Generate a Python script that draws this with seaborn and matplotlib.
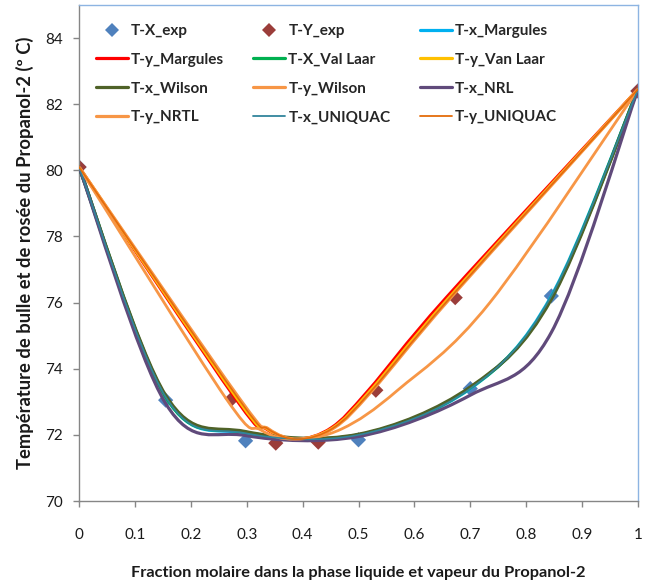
import numpy as np
import pandas as pd
import seaborn as sns
import matplotlib
matplotlib.use("Agg")
import matplotlib.pyplot as plt
from matplotlib.path import Path
from matplotlib.patches import PathPatch
from matplotlib.lines import Line2D

# Experimental bubble points (liquid) and dew points (vapour)
x_exp = [0.0, 0.155, 0.298, 0.5, 0.7, 0.845, 1.0]
T_x_exp = [80.1, 73.05, 71.82, 71.85, 73.4, 76.2, 82.4]
y_exp = [0.0, 0.274, 0.352, 0.428, 0.531, 0.673, 1.0]
T_y_exp = [80.1, 73.1, 71.75, 71.78, 73.35, 76.15, 82.4]

# Model bubble curves, T-x (liquid composition grid)
x_model = [0.0, 0.155, 0.298, 0.5, 0.7, 0.845, 1.0]
T_x_margules = [80.1, 73.15, 72.05, 72.0, 73.4, 76.2, 82.45]
T_x_vanlaar = [80.1, 73.15, 72.08, 72.0, 73.42, 76.15, 82.45]
T_x_wilson = [80.1, 73.2, 72.1, 72.02, 73.45, 76.1, 82.45]
T_x_nrl = [80.1, 72.95, 71.98, 71.95, 73.2, 75.1, 82.45]
T_x_uniquac = [80.1, 73.15, 72.05, 72.0, 73.4, 76.2, 82.45]

# Model dew curves, T-y (vapour composition)
T_vap = [80.1, 73.1, 72.18, 71.87, 72.22, 73.35, 76.15, 82.45]
y_margules = [0.0, 0.28, 0.335, 0.39, 0.452, 0.518, 0.657, 1.0]
y_vanlaar = [0.0, 0.283, 0.337, 0.391, 0.455, 0.522, 0.662, 1.0]
y_wilson = [0.0, 0.287, 0.339, 0.392, 0.457, 0.525, 0.665, 1.0]
y_uniquac = [0.0, 0.285, 0.338, 0.392, 0.456, 0.524, 0.664, 1.0]
T_vap_nrtl = [80.1, 73.1, 72.15, 71.87, 72.18, 73.35, 76.0, 82.45]
y_nrtl = [0.0, 0.263, 0.325, 0.386, 0.47, 0.57, 0.735, 1.0]

x_ticks = [0, 0.1, 0.2, 0.3, 0.4, 0.5, 0.6, 0.7, 0.8, 0.9, 1]
x_ticklabels = ["0", "0.1", "0.2", "0.3", "0.4", "0.5", "0.6", "0.7", "0.8", "0.9", "1"]
y_ticks = [70, 72, 74, 76, 78, 80, 82, 84]

sns.set_theme(style="white")
plt.rcParams["font.family"] = ["Lato", "DejaVu Sans"]

W, H = 645, 587
fig = plt.figure(figsize=(W / 100, H / 100), dpi=100)
ax = fig.add_axes([79 / W, 1 - 501 / H, (638 - 79) / W, (501 - 5) / H])


def smooth_path(xs, ys):
    """Smoothed line through the points (cubic Bezier, Catmull-Rom tangents)."""
    pts = np.column_stack([xs, ys]).astype(float)
    n = len(pts)
    verts = [pts[0]]
    codes = [Path.MOVETO]
    for i in range(n - 1):
        p0 = pts[i - 1] if i > 0 else pts[i]
        p1 = pts[i]
        p2 = pts[i + 1]
        p3 = pts[i + 2] if i + 2 < n else pts[i + 1]
        verts += [p1 + (p2 - p0) / 6, p2 - (p3 - p1) / 6, p2]
        codes += [Path.CURVE4] * 3
    return Path(verts, codes)


exp_df = pd.DataFrame({
    "comp": x_exp + y_exp,
    "T": T_x_exp + T_y_exp,
    "serie": ["T-X_exp"] * len(x_exp) + ["T-Y_exp"] * len(y_exp),
})
exp_colors = {"T-X_exp": "#4F81BD", "T-Y_exp": "#9B3D3A"}
sns.scatterplot(data=exp_df, x="comp", y="T", hue="serie", palette=exp_colors,
                marker="D", s=60, linewidth=0, legend=False, ax=ax, zorder=2)

curves = [
    ("T-x_Margules", x_model, T_x_margules, "#00B0F0", 2.3),
    ("T-y_Margules", y_margules, T_vap, "#FF0000", 2.3),
    ("T-X_Val Laar", x_model, T_x_vanlaar, "#00B050", 2.3),
    ("T-y_Van Laar", y_vanlaar, T_vap, "#FFC000", 2.3),
    ("T-x_Wilson", x_model, T_x_wilson, "#4F6228", 2.3),
    ("T-y_Wilson", y_wilson, T_vap, "#F79646", 2.3),
    ("T-x_NRL", x_model, T_x_nrl, "#604A7B", 2.3),
    ("T-y_NRTL", y_nrtl, T_vap_nrtl, "#F79646", 2.0),
    ("T-x_UNIQUAC", x_model, T_x_uniquac, "#31859C", 1.2),
    ("T-y_UNIQUAC", y_uniquac, T_vap, "#E46C0A", 1.2),
]
for k, (name, xs, ts, col, lw) in enumerate(curves):
    ax.add_patch(PathPatch(smooth_path(xs, ts), fill=False, edgecolor=col,
                           linewidth=lw, capstyle="round", zorder=3 + k * 0.01))

ax.set_xlim(0, 1)
ax.set_ylim(70, 85)
ax.set_xticks(x_ticks)
ax.set_xticklabels(x_ticklabels)
ax.set_yticks(y_ticks)

for side in ("left", "bottom"):
    ax.spines[side].set_color("#868686")
    ax.spines[side].set_linewidth(1.0)
for side in ("top", "right"):
    ax.spines[side].set_color("#8DB4E2")
    ax.spines[side].set_linewidth(1.0)
    ax.spines[side].set_visible(True)

ax.tick_params(axis="both", which="major", direction="out", length=4.5, width=1,
               color="#868686", labelsize=11, labelcolor="#1a1a1a",
               bottom=True, left=True)
ax.tick_params(axis="x", pad=15)
ax.tick_params(axis="y", pad=7)
ax.grid(False)

ax.set_xlabel("Fraction molaire dans la phase liquide et vapeur du Propanol-2",
              fontsize=11.8, fontweight="bold", color="#1a1a1a", labelpad=17)
ax.set_ylabel("Température de bulle et de rosée du Propanol-2 (º C)",
              fontsize=13.2, fontweight="bold", color="#1a1a1a", labelpad=8)

# Legend, three columns filled row by row
handles = [
    Line2D([], [], linestyle="none", marker="D", markersize=7, color="#4F81BD",
           markeredgewidth=0, label="T-X_exp"),
    Line2D([], [], linestyle="none", marker="D", markersize=7, color="#9B3D3A",
           markeredgewidth=0, label="T-Y_exp"),
]
for name, xs, ts, col, lw in curves:
    handles.append(Line2D([], [], color=col, linewidth=2.3 if lw > 1.5 else 1.3,
                          label=name))
order = [0, 3, 6, 9, 1, 4, 7, 10, 2, 5, 8, 11]
handles = [handles[i] for i in order]
leg = ax.legend(handles=handles, ncol=3, loc="upper left",
                bbox_to_anchor=(96 / W, 1 - 24 / H), bbox_transform=fig.transFigure,
                frameon=False, prop={"size": 11, "weight": "bold"},
                handlelength=2.1, handletextpad=0.2, columnspacing=1.9,
                labelspacing=0.97, borderpad=0, borderaxespad=0)

fig.savefig("out.png", dpi=100)
